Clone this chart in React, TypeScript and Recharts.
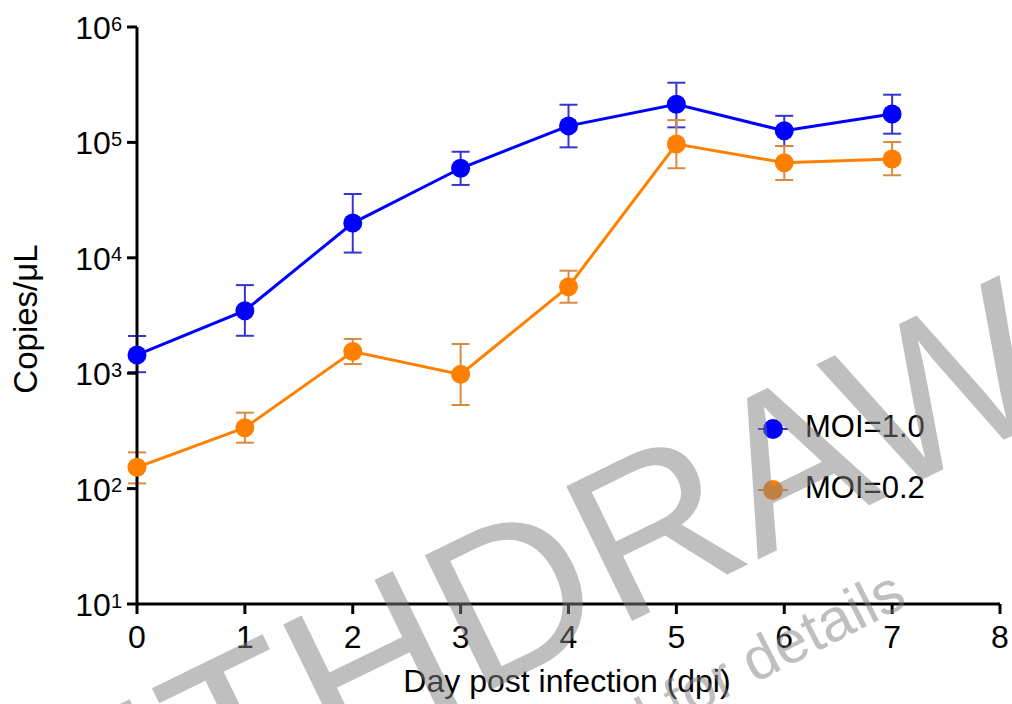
import React from "react";
import { LineChart, Line, XAxis, YAxis, ErrorBar, Legend } from "recharts";

const FONT = '"Liberation Sans", Arial, Helvetica, sans-serif';

const days = [0, 1, 2, 3, 4, 5, 6, 7];
const xTicks = [0, 1, 2, 3, 4, 5, 6, 7, 8];
const yTicks = [10, 100, 1000, 10000, 100000, 1000000];

// MOI=1.0
const moi1Mean = [1440, 3480, 20000, 59700, 139000, 214000, 126000, 176000];
const moi1Upper = [2100, 5800, 35700, 83000, 212000, 329000, 170000, 259000];
const moi1Lower = [1020, 2110, 11100, 42800, 90600, 135000, 93000, 119000];

// MOI=0.2
const moi02Mean = [153, 337, 1540, 977, 5620, 96800, 66700, 71800];
const moi02Upper = [206, 455, 1980, 1790, 7730, 156000, 93000, 100700];
const moi02Lower = [111, 250, 1200, 530, 4080, 59700, 47200, 51900];

const seriesOrder = ["moi1", "moi02"];

const BLUE = "#0000ff";
const BLUE_ERR = "#3535cf";
const ORANGE = "#ff8000";
const ORANGE_ERR = "#d98a40";

const rows = days.map((d, i) => ({
  day: d,
  moi1: moi1Mean[i],
  moi1Err: [moi1Mean[i] - moi1Lower[i], moi1Upper[i] - moi1Mean[i]],
  moi02: moi02Mean[i],
  moi02Err: [moi02Mean[i] - moi02Lower[i], moi02Upper[i] - moi02Mean[i]],
}));

const errColor: Record<string, string> = { moi1: BLUE_ERR, moi02: ORANGE_ERR };

function YTick(props: any) {
  const { x, y, payload } = props;
  const exp = Math.round(Math.log10(payload.value));
  return (
    <text x={x} y={y} textAnchor="end" fill="#000" fontSize={32} fontFamily={FONT}>
      <tspan dy={12}>10</tspan>
      <tspan dy={-8.5} fontSize={20}>
        {exp}
      </tspan>
    </text>
  );
}

function YTitle() {
  return (
    <text
      transform="translate(25,319) rotate(-90)"
      textAnchor="middle"
      dy="0.36em"
      fill="#000"
      fontSize={33}
      fontFamily={FONT}
    >
      Copies/μL
    </text>
  );
}

function XTitle() {
  return (
    <text x={567} y={692} textAnchor="middle" fill="#000" fontSize={32} fontFamily={FONT}>
      Day post infection (dpi)
    </text>
  );
}

function LegendBox(props: any) {
  const items = [...(props.payload || [])].sort(
    (a: any, b: any) => seriesOrder.indexOf(a.dataKey) - seriesOrder.indexOf(b.dataKey)
  );
  return (
    <div style={{ fontFamily: FONT }}>
      {items.map((it: any) => (
        <div key={it.value} style={{ display: "flex", alignItems: "center", height: 61 }}>
          <svg width={32} height={22}>
            <line x1={0} x2={30} y1={11} y2={11} stroke={errColor[it.dataKey] || it.color} strokeWidth={2} />
            <circle cx={15} cy={11} r={10} fill={it.color} />
          </svg>
          <span style={{ marginLeft: 15, fontSize: 31, color: "#000", lineHeight: "61px", position: "relative", top: -2 }}>
            {it.value}
          </span>
        </div>
      ))}
    </div>
  );
}

export default function App() {
  return (
    <div style={{ position: "absolute", left: 0, top: 0, width: 1012, height: 704, background: "#fff" }}>
      <LineChart width={1012} height={704} data={rows} margin={{ top: 27, right: 12, left: 0, bottom: 0 }}>
        <XAxis
          dataKey="day"
          type="number"
          domain={[0, 8]}
          ticks={xTicks}
          interval={0}
          height={100}
          tickSize={10}
          tickMargin={11}
          axisLine={{ stroke: "#000", strokeWidth: 3 }}
          tickLine={{ stroke: "#000", strokeWidth: 3 }}
          tick={{ fill: "#000", fontSize: 32, fontFamily: FONT }}
          label={<XTitle />}
        />
        <YAxis
          type="number"
          scale="log"
          domain={[10, 1000000]}
          ticks={yTicks}
          interval={0}
          allowDataOverflow
          width={137}
          tickSize={10}
          tickMargin={5}
          axisLine={{ stroke: "#000", strokeWidth: 3 }}
          tickLine={{ stroke: "#000", strokeWidth: 3 }}
          tick={<YTick />}
          label={<YTitle />}
        />
        <Legend
          layout="vertical"
          verticalAlign="middle"
          align="center"
          wrapperStyle={{ position: "absolute", left: 758, top: 398, width: 220 }}
          content={<LegendBox />}
        />
        <Line
          type="linear"
          dataKey="moi1"
          name="MOI=1.0"
          stroke={BLUE}
          strokeWidth={3}
          dot={{ r: 9.5, fill: BLUE, stroke: BLUE, strokeWidth: 0 }}
          activeDot={false}
          isAnimationActive={false}
        >
          <ErrorBar dataKey="moi1Err" direction="y" width={9} stroke={BLUE_ERR} strokeWidth={2} isAnimationActive={false} />
        </Line>
        <Line
          type="linear"
          dataKey="moi02"
          name="MOI=0.2"
          stroke={ORANGE}
          strokeWidth={3}
          dot={{ r: 9.5, fill: ORANGE, stroke: ORANGE, strokeWidth: 0 }}
          activeDot={false}
          isAnimationActive={false}
        >
          <ErrorBar dataKey="moi02Err" direction="y" width={9} stroke={ORANGE_ERR} strokeWidth={2} isAnimationActive={false} />
        </Line>
      </LineChart>
      <svg
        width={1012}
        height={704}
        style={{ position: "absolute", left: 0, top: 0, pointerEvents: "none" }}
        fontFamily={FONT}
      >
        <text x={-26} y={942} transform="rotate(-26 -26 942)" fontSize={218} fill="#808080" fillOpacity={0.5}>
          WITHDRAWN
        </text>
        <text x={190} y={971} transform="rotate(-27 190 971)" fontSize={60} fill="#808080" fillOpacity={0.5}>
          see manuscript DOI for details
        </text>
      </svg>
    </div>
  );
}
